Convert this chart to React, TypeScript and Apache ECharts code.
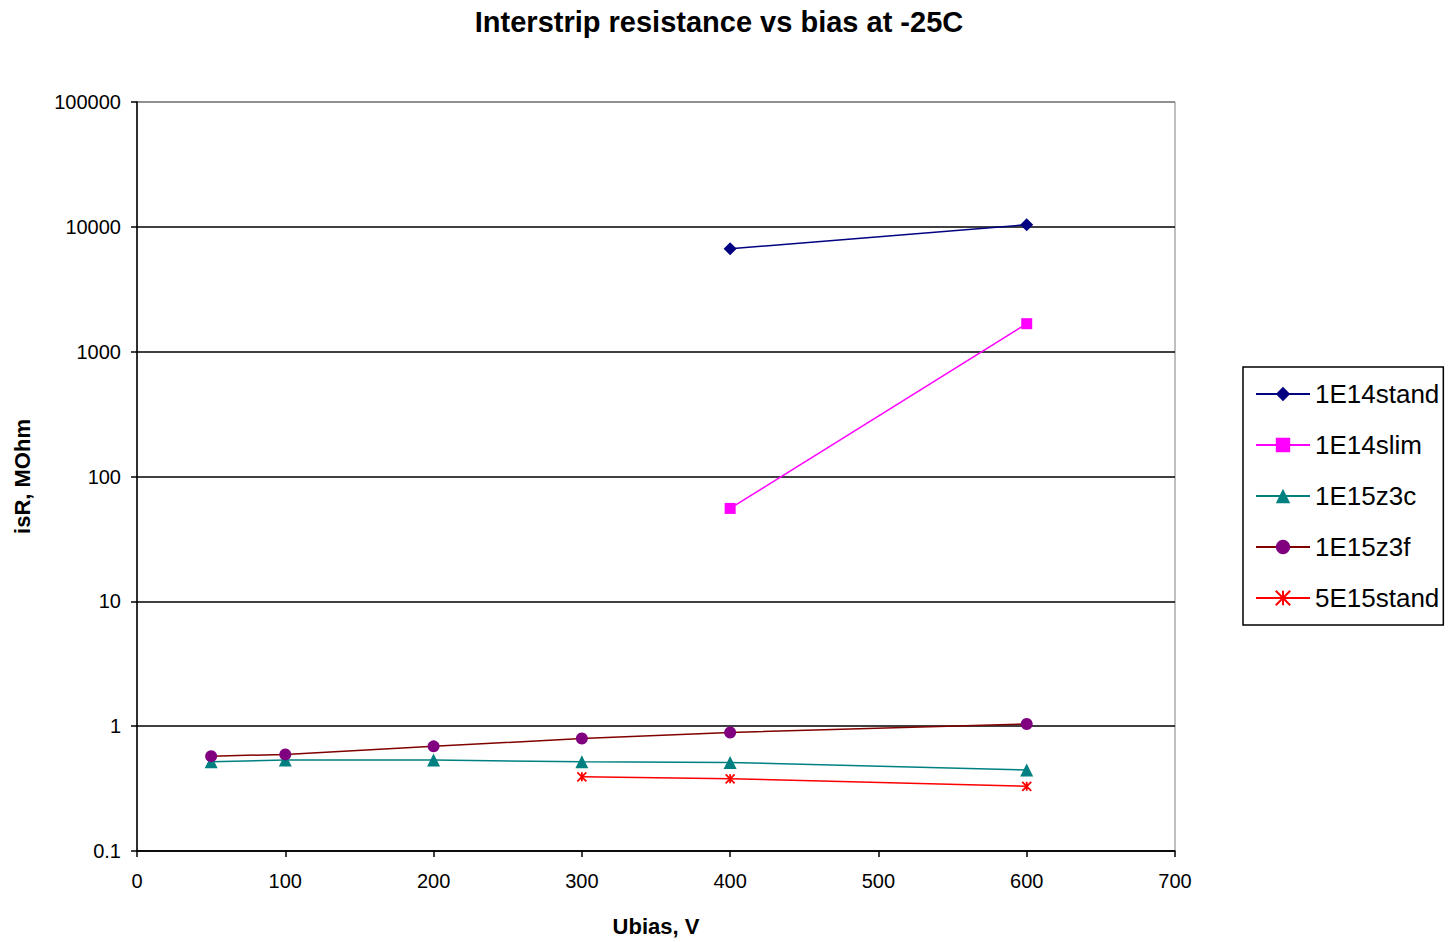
import React, { useEffect, useRef } from "react";
import * as echarts from "echarts";

const seriesNames = ["1E14stand", "1E14slim", "1E15z3c", "1E15z3f", "5E15stand"];
const stand14X = [400, 600];
const stand14Y = [6670, 10400];
const slim14X = [400, 600];
const slim14Y = [55.5, 1675];
const z3cX = [50, 100, 200, 300, 400, 600];
const z3cY = [0.518, 0.535, 0.535, 0.518, 0.512, 0.445];
const z3fX = [50, 100, 200, 300, 400, 600];
const z3fY = [0.575, 0.594, 0.689, 0.797, 0.89, 1.04];
const stand5X = [300, 400, 600];
const stand5Y = [0.393, 0.379, 0.33];

const pair = (xs: number[], ys: number[]) => xs.map((x, i) => [x, ys[i]]);

const ASTERISK = "path://M0 0L10 10M10 0L0 10M5 0L5 10";

export default function App() {
  const ref = useRef<HTMLDivElement>(null);
  useEffect(() => {
    const chart = echarts.init(ref.current!, undefined, { renderer: "svg" });
    const font = "Arial, 'Liberation Sans', sans-serif";
    const mk = (
      name: string,
      data: number[][],
      lineColor: string,
      markColor: string,
      symbol: string,
      size: number,
      extra: any = {}
    ) => ({
      name,
      type: "line",
      data,
      symbol,
      symbolSize: size,
      lineStyle: { color: lineColor, width: 1.5 },
      itemStyle: { color: markColor, ...extra },
      emphasis: { disabled: true },
    });
    chart.setOption({
      animation: false,
      backgroundColor: "#fff",
      textStyle: { fontFamily: font },
      title: {
        text: "Interstrip resistance vs bias at -25C",
        left: 714,
        textAlign: "center",
        top: 2,
        textStyle: { fontSize: 29, fontWeight: "bold", color: "#000", fontFamily: font },
      },
      grid: {
        left: 137,
        top: 102,
        right: 274,
        bottom: 89,
        show: true,
        borderColor: "#808080",
        borderWidth: 1,
      },
      legend: {
        orient: "vertical",
        left: 1243,
        top: 367,
        padding: [13, 4, 13, 12],
        itemWidth: 54,
        itemHeight: 18,
        itemGap: 23,
        borderColor: "#000",
        borderWidth: 1.5,
        borderRadius: 0,
        data: seriesNames,
        textStyle: {
          fontSize: 26,
          lineHeight: 28,
          color: "#000",
          fontFamily: font,
          padding: [0, 0, 0, 0],
        },
      },
      xAxis: {
        type: "value",
        min: 0,
        max: 700,
        interval: 100,
        name: "Ubias, V",
        nameLocation: "middle",
        nameGap: 64,
        nameTextStyle: { fontSize: 22, fontWeight: "bold", color: "#000" },
        axisLine: { show: true, lineStyle: { color: "#000", width: 1.5 } },
        axisTick: { show: true, length: 6, lineStyle: { color: "#000", width: 1.5 } },
        axisLabel: { fontSize: 20, color: "#000", margin: 20 },
        splitLine: { show: false },
      },
      yAxis: {
        type: "log",
        logBase: 10,
        min: 0.1,
        max: 100000,
        name: "isR, MOhm",
        nameLocation: "middle",
        nameGap: 104,
        nameTextStyle: { fontSize: 22, fontWeight: "bold", color: "#000" },
        axisLine: { show: true, lineStyle: { color: "#000", width: 1.5 } },
        axisTick: { show: true, length: 6, lineStyle: { color: "#000", width: 1.5 } },
        axisLabel: {
          fontSize: 20,
          color: "#000",
          margin: 16,
          formatter: (v: number) => String(parseFloat(v.toPrecision(6))),
        },
        splitLine: {
          show: true,
          lineStyle: {
            color: ["#000", "#000", "#000", "#000", "#000", "#000", "#808080"],
            width: 1.5,
          },
        },
      },
      series: [
        mk(seriesNames[0], pair(stand14X, stand14Y), "#000080", "#000080", "diamond", 13),
        mk(seriesNames[1], pair(slim14X, slim14Y), "#FF00FF", "#FF00FF", "rect", 11),
        mk(seriesNames[2], pair(z3cX, z3cY), "#008080", "#008080", "triangle", 13),
        mk(seriesNames[3], pair(z3fX, z3fY), "#800000", "#800080", "circle", 12),
        mk(seriesNames[4], pair(stand5X, stand5Y), "#FF0000", "#FF0000", ASTERISK, 9, {
          borderColor: "#FF0000",
          borderWidth: 1.8,
        }),
      ],
    });
    return () => chart.dispose();
  }, []);
  return (
    <div
      ref={ref}
      style={{ position: "fixed", left: 0, top: 0, width: 1449, height: 942 }}
    />
  );
}
